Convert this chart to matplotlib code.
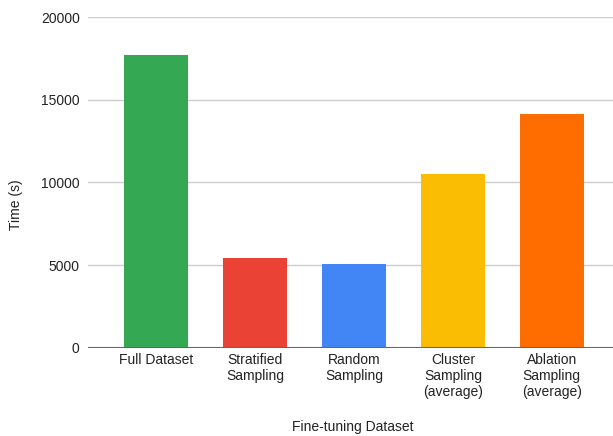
import matplotlib.pyplot as plt
import numpy as np

plt.rcParams['font.family'] = ['Liberation Sans', 'DejaVu Sans']

# data
categories = ['Full Dataset', 'Stratified\nSampling', 'Random\nSampling',
              'Cluster\nSampling\n(average)', 'Ablation\nSampling\n(average)']
times = [17720, 5410, 5080, 10530, 14130]
colors = ['#34a853', '#ea4335', '#4285f4', '#fbbc04', '#ff6d01']
yticks = [0, 5000, 10000, 15000, 20000]

fig = plt.figure(figsize=(6.13, 4.36), dpi=100)
ax = fig.add_axes([88 / 613, 1 - 347.7 / 436, 1 - 88 / 613, (347.7 - 17.3) / 436])

x = np.arange(len(categories))
ax.bar(x, times, width=0.65, color=colors, zorder=2)

ax.set_xlim(-0.69, 4.62)
ax.set_ylim(0, 20000)
ax.set_yticks(yticks)
ax.set_yticklabels([str(t) for t in yticks], fontsize=10, color='#222222')
ax.set_xticks(x)
ax.set_xticklabels(categories, fontsize=10, color='#222222', linespacing=1.15)
ax.tick_params(axis='both', length=0)
ax.tick_params(axis='y', pad=6)
ax.tick_params(axis='x', pad=4)

for t in yticks[1:]:
    ax.axhline(t, color='#cccccc', lw=1, zorder=1)
ax.axhline(0, color='#666666', lw=1.5, zorder=3)

for s in ax.spines.values():
    s.set_visible(False)

fig.text(16 / 613, 1 - 205 / 436, 'Time (s)', rotation=90, ha='center', va='center',
         fontsize=10, color='#222222')
fig.text(353 / 613, 1 - 427 / 436, 'Fine-tuning Dataset', ha='center', va='center',
         fontsize=10, color='#222222')

fig.savefig('out.png', dpi=100)
